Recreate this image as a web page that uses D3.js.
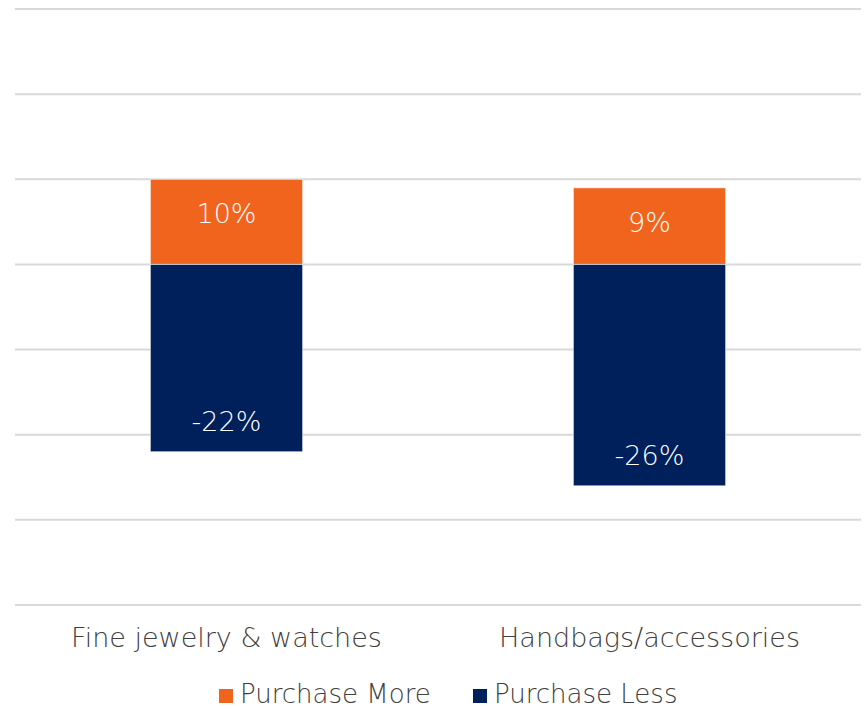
<!DOCTYPE html>
<html>
<head>
<meta charset="utf-8">
<script src="https://cdn.jsdelivr.net/npm/d3@7"></script>
<style>
  body { margin: 0; background: #fff; }
  text { font-family: "Century Gothic", "DejaVu Sans", sans-serif; font-weight: 200; }
</style>
</head>
<body>
<script>

var width = 867, height = 709;

// data
var categories = ["Fine jewelry & watches", "Handbags/accessories"];
var purchaseMore = [0.10, 0.09];
var purchaseLess = [-0.22, -0.26];
var seriesNames = ["Purchase More", "Purchase Less"];
var seriesColors = ["#F0641E", "#00205B"];
var gridTicks = [0.3, 0.2, 0.1, 0, -0.1, -0.2, -0.3, -0.4];

var svg = d3.select("body").append("svg")
    .attr("width", width)
    .attr("height", height);

var x = d3.scaleBand()
    .domain(categories)
    .range([15, 861])
    .paddingInner(0.64)
    .paddingOuter(0.32);

var y = d3.scaleLinear()
    .domain([-0.4, 0.3])
    .range([605, 9]);

// gridlines
svg.append("g")
  .selectAll("line")
  .data(gridTicks)
  .enter().append("line")
    .attr("x1", 15)
    .attr("x2", 861)
    .attr("y1", function(d) { return y(d); })
    .attr("y2", function(d) { return y(d); })
    .attr("stroke", "#d9d9d9")
    .attr("stroke-width", 2);

var fmt = function(v) { return Math.round(v * 100) + "%"; };

var series = [purchaseMore, purchaseLess];

series.forEach(function(vals, s) {
  var g = svg.append("g");
  g.selectAll("rect")
    .data(vals)
    .enter().append("rect")
      .attr("x", function(d, i) { return x(categories[i]); })
      .attr("width", x.bandwidth())
      .attr("y", function(d) { return y(Math.max(0, d)); })
      .attr("height", function(d) { return Math.abs(y(d) - y(0)); })
      .attr("fill", seriesColors[s])
      .attr("stroke", "#fff")
      .attr("stroke-opacity", 0.6)
      .attr("stroke-width", 1);

  // labels at inside end
  g.selectAll("text")
    .data(vals)
    .enter().append("text")
      .attr("x", function(d, i) { return x(categories[i]) + x.bandwidth() / 2; })
      .attr("y", function(d) { return d > 0 ? y(d) + 44 : y(d) - 21; })
      .attr("text-anchor", "middle")
      .attr("fill", "#fff")
      .style("font-size", "27px")
      .text(fmt);
});

// category labels
svg.append("g")
  .selectAll("text")
  .data(categories)
  .enter().append("text")
    .attr("x", function(d) { return x(d) + x.bandwidth() / 2; })
    .attr("y", 647)
    .attr("text-anchor", "middle")
    .attr("fill", "#404040")
    .style("font-size", "27px")
    .text(function(d) { return d; });

// legend
var legendX = [219, 473];
var legend = svg.append("g")
  .selectAll("g")
  .data(seriesNames)
  .enter().append("g")
    .attr("transform", function(d, i) { return "translate(" + legendX[i] + ",689)"; });

legend.append("rect")
    .attr("width", 14)
    .attr("height", 14)
    .attr("fill", function(d, i) { return seriesColors[i]; });

legend.append("text")
    .attr("x", 21)
    .attr("y", 14)
    .attr("fill", "#404040")
    .style("font-size", "26px")
    .text(function(d) { return d; });

</script>
</body>
</html>
